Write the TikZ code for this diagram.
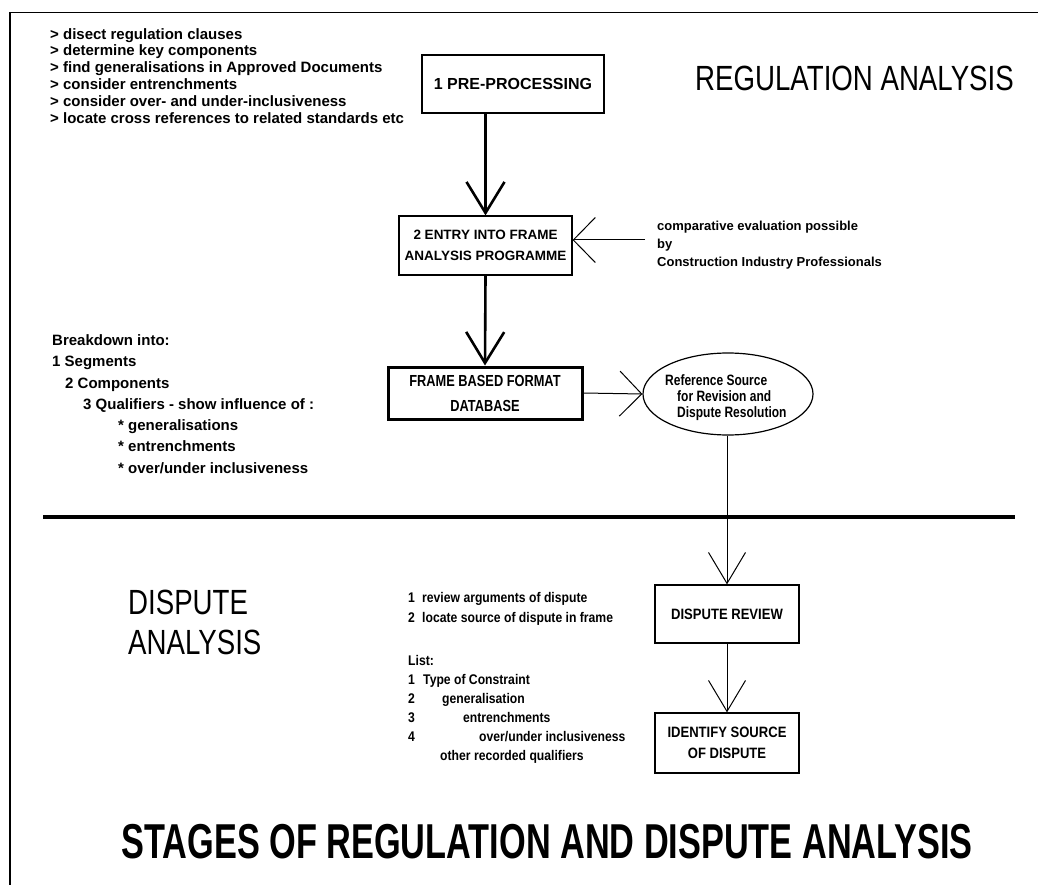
\documentclass[tikz,border=0pt]{standalone}
\usepackage{fontspec}
\setmainfont{Liberation Sans}
% condensed cuts of the same face
\newfontfamily\fA[FakeStretch=0.87]{Liberation Sans}
\newfontfamily\fB[FakeStretch=0.80]{Liberation Sans}
\newfontfamily\fH[FakeStretch=0.79]{Liberation Sans}
\newfontfamily\fT[FakeStretch=0.70]{Liberation Sans}
\usetikzlibrary{arrows.meta,shapes.geometric}

\tikzset{
  stagebox/.style={draw, line width=1.2pt, inner sep=0pt, align=center},
  note/.style={inner sep=0pt, align=left, anchor=north west},
  bigarrow/.style={line width=2.6pt, -{Straight Barb[length=31pt,width=38pt]}},
  sidearrow/.style={line width=1pt, -{Straight Barb[length=22pt,width=45pt]}},
  downarrow/.style={line width=1pt, -{Straight Barb[length=31pt,width=37pt]}},
}

\begin{document}
\begin{tikzpicture}[x=1pt,y=-1pt]
\useasboundingbox (0,0) rectangle (1038,885);
\fill[white] (0,0) rectangle (1038,885);

% frame edges
\draw[line width=1.5pt] (10,885) -- (10,12.7) -- (1038,12.7);
% divider between the two halves
\draw[line width=4pt] (43,517) -- (1015,517);

% ---- regulation analysis ----
\node[note, font={\bfseries\fontsize{15}{16.8}\selectfont}] (tasks) at (50,28)
  {> disect regulation clauses\\
   > determine key components\\
   > find generalisations in Approved Documents\\
   > consider entrenchments\\
   > consider over- and under-inclusiveness\\
   > locate cross references to related standards etc};

\node[stagebox, minimum width=182pt, minimum height=58pt,
      font={\bfseries\fontsize{16}{20}\selectfont}] (pre) at (513,84) {1 PRE-PROCESSING};

\node[inner sep=0pt, anchor=west, font={\fH\fontsize{35}{40}\selectfont}] (regtitle) at (695,78)
  {REGULATION ANALYSIS};

\node[stagebox, minimum width=173pt, minimum height=59pt,
      font={\bfseries\fontsize{13.5}{21}\selectfont}] (entry) at (485.5,245.5)
  {2 ENTRY INTO FRAME\\ANALYSIS PROGRAMME};

\node[note, font={\bfseries\fontsize{13}{18}\selectfont}] (compare) at (657,221)
  {comparative evaluation possible\\by\\Construction Industry Professionals};
\coordinate (cmp) at (645,240);

\node[note, font={\bfseries\fontsize{15}{21.3}\selectfont}] (breakdown) at (52,334.4)
  {Breakdown into:\\
   1 Segments\\
   \hspace*{13pt}2 Components\\
   \hspace*{31pt}3 Qualifiers - show influence of :\\
   \hspace*{66pt}* generalisations\\
   \hspace*{66pt}* entrenchments\\
   \hspace*{66pt}* over/under inclusiveness};

\node[stagebox, line width=3pt, minimum width=194pt, minimum height=52pt,
      font={\fB\bfseries\fontsize{16}{25}\selectfont}] (frame) at (485,393)
  {FRAME BASED FORMAT\\DATABASE};

\node[draw, ellipse, line width=1.2pt, minimum width=170pt, minimum height=82pt] (ref) at (728,394) {};
\node[note, font={\fB\bfseries\fontsize{15}{16}\selectfont}] (reftext) at (665,374)
  {Reference Source\\\hspace*{12pt}for Revision and\\\hspace*{12pt}Dispute Resolution};

\draw[bigarrow] (entry.north |- pre.south) -- (entry.north);
\draw[sidearrow] (cmp) -- (entry.east |- cmp);
\draw[bigarrow] (entry.south) -- (frame.north);
\draw[sidearrow] (frame.east) -- (ref.west);

% ---- dispute analysis ----
\node[note, font={\fH\fontsize{35}{40}\selectfont}] (disptitle) at (128,589.5)
  {DISPUTE\\ANALYSIS};

\node[note, font={\fA\bfseries\fontsize{14}{20}\selectfont}] (steps) at (408,592)
  {\makebox[14pt][l]{1}review arguments of dispute\\
   \makebox[14pt][l]{2}locate source of dispute in frame};

\node[note, font={\fA\bfseries\fontsize{14}{19}\selectfont}] (listing) at (408,655)
  {List:\\
   \makebox[15pt][l]{1}Type of Constraint\\
   \makebox[34pt][l]{2}generalisation\\
   \makebox[55pt][l]{3}entrenchments\\
   \makebox[71pt][l]{4}over/under inclusiveness\\
   \hspace*{32pt}other recorded qualifiers};

\node[stagebox, minimum width=144pt, minimum height=58pt,
      font={\fA\bfseries\fontsize{15}{21}\selectfont}] (review) at (727,614) {DISPUTE REVIEW};
\node[stagebox, minimum width=144pt, minimum height=60pt,
      font={\fA\bfseries\fontsize{15}{21}\selectfont}] (identify) at (727,743)
  {IDENTIFY SOURCE\\OF DISPUTE};

\draw[downarrow] (review.north |- ref.south) -- (review.north);
\draw[downarrow] (review.south) -- (identify.north);

\node[inner sep=0pt, font={\fT\bfseries\fontsize{49}{55}\selectfont}] (title) at (547,842)
  {STAGES OF REGULATION AND DISPUTE ANALYSIS};
\end{tikzpicture}
\end{document}
